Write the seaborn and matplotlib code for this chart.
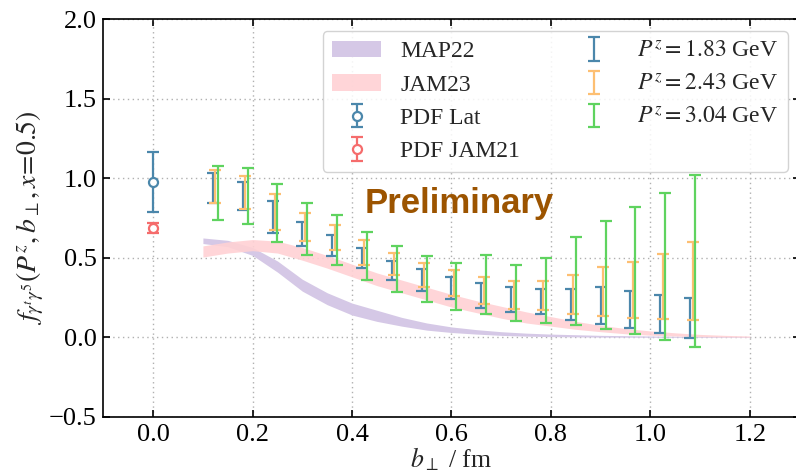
import numpy as np
import matplotlib
matplotlib.use("Agg")
import matplotlib.pyplot as plt
import seaborn as sns

# ---- lattice data: transverse separation b_perp (fm) ----
b_perp = [0.12, 0.18, 0.24, 0.30, 0.36, 0.42, 0.48, 0.54, 0.60,
          0.66, 0.72, 0.78, 0.84, 0.90, 0.96, 1.02, 1.08]

pz183_val = [0.940, 0.888, 0.755, 0.650, 0.579, 0.497, 0.421, 0.361, 0.308,
             0.262, 0.237, 0.224, 0.205, 0.202, 0.173, 0.144, 0.120]
pz183_err = [0.095, 0.088, 0.100, 0.077, 0.067, 0.063, 0.060, 0.067, 0.070,
             0.079, 0.077, 0.079, 0.098, 0.116, 0.116, 0.119, 0.126]

pz243_val = [0.949, 0.912, 0.791, 0.696, 0.629, 0.536, 0.462, 0.393, 0.342,
             0.295, 0.269, 0.263, 0.270, 0.287, 0.298, 0.319, 0.356]
pz243_err = [0.103, 0.102, 0.113, 0.089, 0.077, 0.079, 0.067, 0.074, 0.080,
             0.087, 0.088, 0.093, 0.125, 0.155, 0.174, 0.206, 0.245]

pz304_val = [0.908, 0.888, 0.782, 0.682, 0.611, 0.514, 0.432, 0.367, 0.321,
             0.331, 0.279, 0.295, 0.352, 0.390, 0.421, 0.445, 0.480]
pz304_err = [0.172, 0.177, 0.182, 0.166, 0.158, 0.151, 0.144, 0.144, 0.149,
             0.186, 0.178, 0.207, 0.276, 0.340, 0.398, 0.462, 0.539]

# small horizontal shifts so the three momenta do not overlap
shift_243 = 0.005
shift_304 = 0.010

# ---- PDF normalisation points at b_perp = 0 ----
pdf_lat_val, pdf_lat_err = 0.978, 0.187
pdf_jam_val, pdf_jam_err = 0.690, 0.031

# ---- phenomenological bands ----
map22_b = [0.10, 0.15, 0.20, 0.25, 0.30, 0.35, 0.40, 0.45, 0.50, 0.55,
           0.60, 0.65, 0.70, 0.75, 0.80, 0.90, 1.00, 1.10, 1.20]
map22_lo = [0.590, 0.570, 0.515, 0.410, 0.290, 0.205, 0.140, 0.100, 0.070, 0.045,
            0.030, 0.020, 0.012, 0.007, 0.004, 0.001, 0.000, 0.000, 0.000]
map22_hi = [0.625, 0.610, 0.565, 0.480, 0.365, 0.280, 0.215, 0.170, 0.125, 0.090,
            0.065, 0.048, 0.035, 0.026, 0.020, 0.012, 0.008, 0.005, 0.004]

jam23_b = [0.10, 0.15, 0.20, 0.25, 0.30, 0.35, 0.40, 0.45, 0.50, 0.55, 0.60,
           0.65, 0.70, 0.75, 0.80, 0.85, 0.90, 0.95, 1.00, 1.05, 1.10, 1.15, 1.20]
jam23_lo = [0.505, 0.530, 0.545, 0.530, 0.485, 0.435, 0.380, 0.325, 0.280, 0.235, 0.190,
            0.155, 0.120, 0.090, 0.070, 0.050, 0.035, 0.022, 0.013, 0.008, 0.004, 0.002, 0.001]
jam23_hi = [0.575, 0.600, 0.615, 0.605, 0.565, 0.515, 0.460, 0.405, 0.360, 0.315, 0.270,
            0.230, 0.195, 0.160, 0.130, 0.100, 0.075, 0.055, 0.040, 0.028, 0.018, 0.012, 0.008]

x_ticks = [0.0, 0.2, 0.4, 0.6, 0.8, 1.0, 1.2]
y_ticks = [-0.5, 0.0, 0.5, 1.0, 1.5, 2.0]

# ---- styling ----
sns.set_theme(style="ticks")
plt.rcParams["font.family"] = ["Liberation Serif", "DejaVu Serif"]
plt.rcParams["mathtext.fontset"] = "stix"
plt.rcParams["axes.unicode_minus"] = True

c_blue = "#4b87ab"
c_orange = "#fdbf72"
c_green = "#5fd35f"
c_red = "#f56c6c"
c_map = "#d5c8e6"
c_jam = "#ffd1d4"

fig = plt.figure(figsize=(7.96, 4.75), dpi=100)
ax = fig.add_axes([0.130, 0.1227, 0.8744, 0.8363])

ax.fill_between(map22_b, map22_lo, map22_hi, color=c_map, lw=0, label="MAP22", zorder=1)
ax.fill_between(jam23_b, jam23_lo, jam23_hi, color=c_jam, lw=0, alpha=0.9,
                label="JAM23", zorder=1.1)

eb_kw = dict(capsize=4.5, elinewidth=1.6, capthick=1.6)
ax.errorbar([0.0], [pdf_lat_val], yerr=[pdf_lat_err], fmt="o", color=c_blue,
            mfc="white", mec=c_blue, ms=6.5, mew=1.6, label="PDF Lat", zorder=3, **eb_kw)
ax.errorbar([0.0], [pdf_jam_val], yerr=[pdf_jam_err], fmt="o", color=c_red,
            mfc="white", mec=c_red, ms=6.5, mew=1.6, label="PDF JAM21", zorder=3, **eb_kw)

b = np.array(b_perp)
ax.errorbar(b, pz183_val, yerr=pz183_err, fmt="none", ecolor=c_blue,
            label=r"$P^z = 1.83$ GeV", zorder=3, **eb_kw)
ax.errorbar(b + shift_243, pz243_val, yerr=pz243_err, fmt="none", ecolor=c_orange,
            label=r"$P^z = 2.43$ GeV", zorder=3.1, **eb_kw)
ax.errorbar(b + shift_304, pz304_val, yerr=pz304_err, fmt="none", ecolor=c_green,
            label=r"$P^z = 3.04$ GeV", zorder=3.2, **eb_kw)

ax.text(0.615, 0.845, "Preliminary", fontsize=25, fontweight="bold",
        family="Liberation Sans", color="#9c5400", ha="center", va="center", zorder=5)

ax.set_xlim(-0.1, 1.3)
ax.set_ylim(-0.5, 2.0)
ax.set_xticks(x_ticks)
ax.set_yticks(y_ticks)
ax.set_xticklabels([f"{v:.1f}" for v in x_ticks])
ax.set_yticklabels([f"{v:.1f}".replace("-", "\u2212") for v in y_ticks])
ax.tick_params(direction="in", top=True, right=True, length=5, width=1.2,
               labelsize=19, colors="black", pad=5)
for s in ax.spines.values():
    s.set_color("black")
    s.set_linewidth(1.2)
ax.grid(True, linestyle=(0, (1, 2.5)), color="#b0b0b0", linewidth=1.0)

ax.set_xlabel(r"$b_\perp$ / fm", fontsize=18.5, labelpad=0)
ax.set_ylabel(r"$f_{\gamma^t\gamma^5}(P^z, b_\perp, x\!=\!0.5)$", fontsize=20, labelpad=2)

ax.legend(loc="upper right", ncol=2, fontsize=17, handlelength=2.08,
          handletextpad=0.8, columnspacing=2.08, labelspacing=0.5,
          frameon=True, fancybox=True, edgecolor="#cccccc", framealpha=0.85)

fig.savefig("out.png", dpi=100)
